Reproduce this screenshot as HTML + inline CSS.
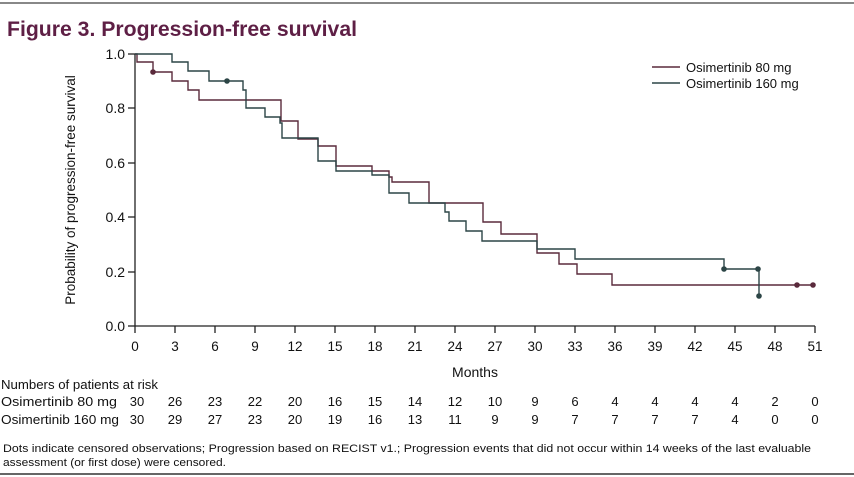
<!DOCTYPE html>
<html><head><meta charset="utf-8"><style>
html,body{margin:0;padding:0;background:#fff;}
svg{display:block;font-family:"Liberation Sans",Arial,sans-serif;}
</style></head><body>
<svg width="854" height="477" viewBox="0 0 854 477" xmlns="http://www.w3.org/2000/svg">
<rect x="0" y="0" width="854" height="477" fill="#fff"/>
<line x1="0" y1="3" x2="854" y2="3" stroke="#888" stroke-width="2"/>
<text x="7" y="36" font-size="21" font-weight="bold" fill="#5e1f45" textLength="350" lengthAdjust="spacingAndGlyphs">Figure 3. Progression-free survival</text>
<g stroke="#222" stroke-width="1.3" fill="none">
<line x1="135" y1="54" x2="135" y2="326"/>
<line x1="135" y1="326" x2="815" y2="326"/>
<line x1="128" y1="54" x2="135" y2="54"/><line x1="128" y1="108" x2="135" y2="108"/><line x1="128" y1="163" x2="135" y2="163"/><line x1="128" y1="217" x2="135" y2="217"/><line x1="128" y1="272" x2="135" y2="272"/><line x1="128" y1="326" x2="135" y2="326"/>
</g>
<g stroke="#222" stroke-width="1.3">
<line x1="135" y1="326" x2="135" y2="333"/><line x1="175" y1="326" x2="175" y2="333"/><line x1="215" y1="326" x2="215" y2="333"/><line x1="255" y1="326" x2="255" y2="333"/><line x1="295" y1="326" x2="295" y2="333"/><line x1="335" y1="326" x2="335" y2="333"/><line x1="375" y1="326" x2="375" y2="333"/><line x1="415" y1="326" x2="415" y2="333"/><line x1="455" y1="326" x2="455" y2="333"/><line x1="495" y1="326" x2="495" y2="333"/><line x1="535" y1="326" x2="535" y2="333"/><line x1="575" y1="326" x2="575" y2="333"/><line x1="615" y1="326" x2="615" y2="333"/><line x1="655" y1="326" x2="655" y2="333"/><line x1="695" y1="326" x2="695" y2="333"/><line x1="735" y1="326" x2="735" y2="333"/><line x1="775" y1="326" x2="775" y2="333"/><line x1="815" y1="326" x2="815" y2="333"/>
</g>
<g font-size="14" fill="#111" text-anchor="end">
<text x="125" y="59">1.0</text><text x="125" y="113">0.8</text><text x="125" y="168">0.6</text><text x="125" y="222">0.4</text><text x="125" y="277">0.2</text><text x="125" y="331">0.0</text>
</g>
<g font-size="13.5" fill="#111" text-anchor="middle">
<text x="135" y="351">0</text><text x="175" y="351">3</text><text x="215" y="351">6</text><text x="255" y="351">9</text><text x="295" y="351">12</text><text x="335" y="351">15</text><text x="375" y="351">18</text><text x="415" y="351">21</text><text x="455" y="351">24</text><text x="495" y="351">27</text><text x="535" y="351">30</text><text x="575" y="351">33</text><text x="615" y="351">36</text><text x="655" y="351">39</text><text x="695" y="351">42</text><text x="735" y="351">45</text><text x="775" y="351">48</text><text x="815" y="351">51</text>
<text x="475" y="377" font-size="14">Months</text>
</g>
<text transform="translate(75,190) rotate(-90)" font-size="13.5" fill="#111" text-anchor="middle">Probability of progression-free survival</text>
<path d="M135,54 H137 V62 H153 V72 H172 V81 H188 V90 H199 V100 H281 V121 H298 V139 H318 V146 H336 V166 H372 V171 H389 V177 H392 V182 H429 V203 H483 V222 H501 V234 H537 V253 H559 V264 H577 V274 H612 V285 H813" fill="none" stroke="#5a2a3c" stroke-width="1.4"/>
<path d="M135,54 H172 V62 H188 V71 H209 V81 H243 V90 H246 V108 H265 V117 H280 V123 H282 V138 H318 V161 H336 V171 H372 V175 H389 V193 H409 V203 H445 V212 H449 V221 H466 V231 H482 V241 H537 V249 H575 V259 H724 V269 H759 V296" fill="none" stroke="#2c4546" stroke-width="1.4"/>
<g fill="#5a2a3c"><circle cx="153" cy="72" r="2.8"/><circle cx="797" cy="285" r="2.8"/><circle cx="813" cy="285" r="2.8"/></g>
<g fill="#2c4546"><circle cx="227" cy="81" r="2.8"/><circle cx="724" cy="269" r="2.8"/><circle cx="758" cy="269" r="2.8"/><circle cx="759" cy="296" r="2.8"/></g>
<line x1="652" y1="67" x2="680" y2="67" stroke="#5a2a3c" stroke-width="1.4"/>
<line x1="652" y1="83" x2="680" y2="83" stroke="#2c4546" stroke-width="1.4"/>
<text x="686" y="72" font-size="13" fill="#111">Osimertinib 80 mg</text>
<text x="686" y="88" font-size="13" fill="#111">Osimertinib 160 mg</text>
<g font-size="13" fill="#111">
<text x="1" y="389" textLength="157" lengthAdjust="spacingAndGlyphs">Numbers of patients at risk</text>
<text x="1" y="406" textLength="116" lengthAdjust="spacingAndGlyphs">Osimertinib 80 mg</text>
<text x="1" y="424" textLength="118" lengthAdjust="spacingAndGlyphs">Osimertinib 160 mg</text>
</g>
<g font-size="13" fill="#111" text-anchor="middle">
<text x="137" y="406">30</text><text x="175" y="406">26</text><text x="215" y="406">23</text><text x="255" y="406">22</text><text x="295" y="406">20</text><text x="335" y="406">16</text><text x="375" y="406">15</text><text x="415" y="406">14</text><text x="455" y="406">12</text><text x="495" y="406">10</text><text x="535" y="406">9</text><text x="575" y="406">6</text><text x="615" y="406">4</text><text x="655" y="406">4</text><text x="695" y="406">4</text><text x="735" y="406">4</text><text x="775" y="406">2</text><text x="815" y="406">0</text>
<text x="137" y="424">30</text><text x="175" y="424">29</text><text x="215" y="424">27</text><text x="255" y="424">23</text><text x="295" y="424">20</text><text x="335" y="424">19</text><text x="375" y="424">16</text><text x="415" y="424">13</text><text x="455" y="424">11</text><text x="495" y="424">9</text><text x="535" y="424">9</text><text x="575" y="424">7</text><text x="615" y="424">7</text><text x="655" y="424">7</text><text x="695" y="424">7</text><text x="735" y="424">4</text><text x="775" y="424">0</text><text x="815" y="424">0</text>
</g>
<g font-size="11" fill="#111">
<text x="3" y="452" textLength="808" lengthAdjust="spacingAndGlyphs">Dots indicate censored observations; Progression based on RECIST v1.; Progression events that did not occur within 14 weeks of the last evaluable</text>
<text x="3" y="466" textLength="223" lengthAdjust="spacingAndGlyphs">assessment (or first dose) were censored.</text>
</g>
<line x1="0" y1="474" x2="854" y2="474" stroke="#666" stroke-width="2"/>
</svg>
</body></html>
